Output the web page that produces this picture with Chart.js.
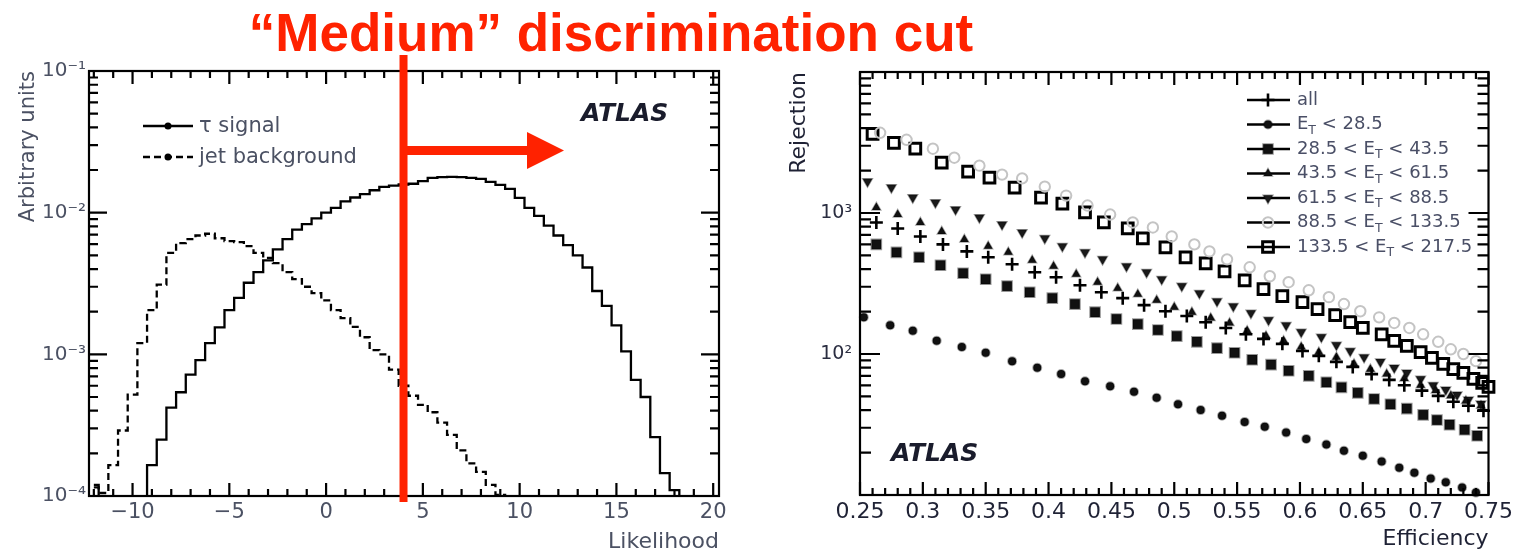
<!DOCTYPE html>
<html>
<head>
<meta charset="utf-8">
<script src="https://cdn.jsdelivr.net/npm/chart.js@4.4.1/dist/chart.umd.min.js"></script>
<style>
  body { margin: 0; background: #fff; width: 1517px; height: 555px; position: relative; overflow: hidden; }
  #title { position: absolute; left: 0; top: 6px; width: 1222px; text-align: center; white-space: nowrap;
           font: bold 53px/53px "Liberation Sans", Arial, sans-serif; color: #ff2200; z-index: 2; }
  canvas { position: absolute; top: 0; }
  #llh { left: 0; }
  #rej { left: 760px; }
</style>
</head>
<body>
<div id="title">“Medium” discrimination cut</div>
<canvas id="llh" width="760" height="555"></canvas>
<canvas id="rej" width="757" height="555"></canvas>
<script>
// ---------- left panel: likelihood distributions (bin centres, width 0.5) ----------
const llhBins = [-12, -11.5, -11, -10.5, -10, -9.5, -9, -8.5, -8, -7.5, -7, -6.5, -6, -5.5, -5, -4.5,
  -4, -3.5, -3, -2.5, -2, -1.5, -1, -0.5, 0, 0.5, 1, 1.5, 2, 2.5, 3, 3.5, 4, 4.5, 5, 5.5, 6, 6.5, 7, 7.5,
  8, 8.5, 9, 9.5, 10, 10.5, 11, 11.5, 12, 12.5, 13, 13.5, 14, 14.5, 15, 15.5, 16, 16.5, 17, 17.5, 18,
  18.5, 19, 19.5, 20];
// 1e-5 = empty bin (below the axis)
const tauSignal = [1.2e-4, 1e-5, 1e-5, 1e-5, 1e-5, 1e-5, 1.65e-4, 2.5e-4, 4.2e-4, 5.4e-4, 7.2e-4, 9.1e-4,
  1.2e-3, 1.55e-3, 2.05e-3, 2.5e-3, 3.2e-3, 3.8e-3, 4.6e-3, 5.5e-3, 6.5e-3, 7.6e-3, 8.3e-3, 9.1e-3,
  1.0e-2, 1.08e-2, 1.2e-2, 1.28e-2, 1.35e-2, 1.44e-2, 1.52e-2, 1.55e-2, 1.58e-2, 1.6e-2, 1.67e-2,
  1.76e-2, 1.78e-2, 1.79e-2, 1.78e-2, 1.76e-2, 1.73e-2, 1.65e-2, 1.57e-2, 1.47e-2, 1.27e-2, 1.08e-2,
  9.5e-3, 8.1e-3, 6.9e-3, 5.9e-3, 5.0e-3, 4.1e-3, 2.8e-3, 2.2e-3, 1.6e-3, 1.05e-3, 6.6e-4, 5.0e-4,
  2.6e-4, 1.45e-4, 1.1e-4, 1e-5, 1e-5, 1e-5, 1e-5];
const jetBackground = [1.15e-4, 1.05e-4, 1.65e-4, 2.9e-4, 5.2e-4, 1.2e-3, 2.05e-3, 3.1e-3, 5.2e-3, 6.1e-3,
  6.5e-3, 6.9e-3, 7.1e-3, 6.6e-3, 6.3e-3, 6.2e-3, 5.8e-3, 5.2e-3, 4.8e-3, 4.4e-3, 3.8e-3, 3.4e-3, 3.0e-3,
  2.7e-3, 2.4e-3, 2.05e-3, 1.8e-3, 1.56e-3, 1.32e-3, 1.07e-3, 1.0e-3, 7.8e-4, 6.0e-4, 5.1e-4, 4.4e-4,
  3.9e-4, 3.3e-4, 2.7e-4, 2.1e-4, 1.7e-4, 1.48e-4, 1.2e-4, 1.02e-4, 1e-5, 1e-5, 1e-5, 1e-5, 1e-5, 1e-5,
  1e-5, 1e-5, 1e-5, 1e-5, 1e-5, 1e-5, 1e-5, 1e-5, 1e-5, 1e-5, 1e-5, 1e-5, 1e-5, 1e-5, 1e-5, 1e-5];
const llhTicks = [-10, -5, 0, 5, 10, 15, 20];
const llhTickLabels = ['−10', '−5', '0', '5', '10', '15', '20'];
const llhYTicks = [1e-4, 1e-3, 1e-2, 1e-1];
const llhYLabels = ['10⁻⁴', '10⁻³', '10⁻²', '10⁻¹'];
const llhLegend = ['τ signal', 'jet background'];
const llhCut = 4;

// ---------- right panel: rejection vs efficiency ----------
const effAll = [0.263, 0.280, 0.298, 0.316, 0.335, 0.352, 0.371, 0.389, 0.406, 0.425, 0.442, 0.459, 0.476, 0.493,
  0.510, 0.525, 0.541, 0.557, 0.571, 0.586, 0.602, 0.615, 0.629, 0.642, 0.657, 0.671, 0.683, 0.697, 0.710, 0.722, 0.734, 0.746];
const rejAll = [857, 777, 682, 599, 534, 485, 433, 380, 350, 307, 274, 249, 222, 201, 186, 168, 153, 138, 128, 118,
  105, 97, 88, 81, 72, 65.5, 60, 55, 50.5, 45.8, 43, 39.6];
const effEt1 = [0.253, 0.274, 0.292, 0.311, 0.331, 0.350, 0.371, 0.391, 0.410, 0.429, 0.449, 0.468, 0.486, 0.503,
  0.521, 0.538, 0.556, 0.572, 0.589, 0.605, 0.621, 0.635, 0.650, 0.665, 0.679, 0.691, 0.704, 0.716, 0.729, 0.740];
const rejEt1 = [182, 160, 146, 124, 112, 102, 89, 80, 72, 64, 59, 54, 49, 44, 40, 36.5, 33, 30.5, 27.7, 25,
  22.8, 20.6, 19, 17.3, 15.6, 14.4, 13.1, 12.3, 11.3, 10.4];
const effEt2 = [0.263, 0.279, 0.297, 0.314, 0.332, 0.350, 0.367, 0.385, 0.403, 0.421, 0.437, 0.454, 0.471, 0.487,
  0.502, 0.518, 0.534, 0.548, 0.562, 0.577, 0.591, 0.607, 0.621, 0.633, 0.646, 0.659, 0.672, 0.685, 0.698, 0.709,
  0.719, 0.731, 0.741];
const rejEt2 = [599, 526, 485, 426, 374, 339, 303, 274, 249, 226, 198, 177, 163, 148, 134, 122, 110, 102, 91, 84,
  76, 70, 63, 58, 53, 48, 44, 41, 37, 34, 31.5, 29, 26.3];
const effEt3 = [0.263, 0.280, 0.298, 0.315, 0.333, 0.352, 0.368, 0.387, 0.404, 0.422, 0.439, 0.455, 0.471, 0.486,
  0.500, 0.514, 0.529, 0.544, 0.558, 0.573, 0.587, 0.601, 0.615, 0.629, 0.643, 0.656, 0.669, 0.683, 0.696, 0.708,
  0.720, 0.732, 0.744];
const rejEt3 = [1094, 975, 857, 740, 650, 580, 526, 462, 419, 368, 323, 293, 265, 241, 215, 198, 180, 166, 146, 134,
  124, 112, 103, 95, 85, 78, 72, 67, 60, 55, 50.5, 46.5, 43];
const effEt4 = [0.256, 0.275, 0.292, 0.310, 0.326, 0.345, 0.363, 0.379, 0.397, 0.411, 0.429, 0.443, 0.462, 0.478,
  0.490, 0.506, 0.520, 0.534, 0.547, 0.561, 0.575, 0.589, 0.601, 0.617, 0.629, 0.640, 0.651, 0.664, 0.675, 0.685,
  0.696, 0.706, 0.716, 0.725, 0.734, 0.744];
const rejEt4 = [1670, 1515, 1288, 1187, 1059, 929, 829, 728, 661, 580, 526, 469, 419, 380, 339, 303, 270, 237, 218, 195,
  174, 160, 143, 132, 116, 105, 95, 88, 80, 73.5, 66.5, 60, 55.7, 51.3, 47.3, 44.4];
const effEt5 = [0.266, 0.287, 0.308, 0.325, 0.345, 0.363, 0.379, 0.397, 0.414, 0.431, 0.449, 0.467, 0.483, 0.498,
  0.516, 0.528, 0.542, 0.560, 0.576, 0.591, 0.607, 0.623, 0.635, 0.648, 0.663, 0.675, 0.687, 0.698, 0.710, 0.720,
  0.730, 0.740];
const rejEt5 = [3706, 3306, 2857, 2468, 2166, 1872, 1760, 1538, 1329, 1130, 975, 857, 790, 682, 599, 534, 469, 412, 356, 323,
  283, 253, 226, 201, 182, 166, 153, 138, 122, 108, 100, 89];
const effEt6 = [0.260, 0.277, 0.294, 0.315, 0.336, 0.353, 0.373, 0.394, 0.411, 0.429, 0.444, 0.463, 0.475, 0.493,
  0.509, 0.525, 0.540, 0.556, 0.571, 0.586, 0.602, 0.614, 0.628, 0.640, 0.650, 0.665, 0.675, 0.685, 0.696, 0.705,
  0.714, 0.722, 0.730, 0.738, 0.745, 0.750];
const rejEt6 = [3647, 3148, 2857, 2276, 1965, 1782, 1515, 1288, 1167, 1009, 857, 777, 661, 570, 485, 440, 386, 333, 288, 257,
  233, 208, 189, 168, 153, 138, 124, 114, 103, 94, 85, 78, 73.5, 66.5, 62.4, 58.5];
const etBins = [null, [null, '28.5'], ['28.5', '43.5'], ['43.5', '61.5'], ['61.5', '88.5'], ['88.5', '133.5'], ['133.5', '217.5']];
const effTicks = [0.25, 0.3, 0.35, 0.4, 0.45, 0.5, 0.55, 0.6, 0.65, 0.7, 0.75];
const effTickLabels = ['0.25', '0.3', '0.35', '0.4', '0.45', '0.5', '0.55', '0.6', '0.65', '0.7', '0.75'];
const rejYTicks = [100, 1000];
const rejYLabels = ['10²', '10³'];

const FONT = '"DejaVu Sans", sans-serif';

// ROOT style frame with inward ticks on all four sides
const frameTicks = {
  id: 'frameTicks',
  afterDatasetsDraw(chart, args, o) {
    const ctx = chart.ctx, a = chart.chartArea, x = chart.scales.x, y = chart.scales.y;
    ctx.save();
    ctx.strokeStyle = '#000';
    ctx.lineWidth = 2.2;
    ctx.beginPath();
    const n = Math.round((o.xLast - o.xFirst) / o.xStep);
    for (let i = 0; i <= n; i++) {
      const v = o.xFirst + i * o.xStep;
      const px = x.getPixelForValue(v);
      const major = Math.abs(v / o.xMajor - Math.round(v / o.xMajor)) < 1e-6;
      const len = major ? o.xMajorLen : o.xMinorLen;
      ctx.moveTo(px, a.bottom); ctx.lineTo(px, a.bottom - len);
      ctx.moveTo(px, a.top); ctx.lineTo(px, a.top + len);
    }
    const e0 = Math.floor(Math.log10(y.min)), e1 = Math.ceil(Math.log10(y.max));
    for (let e = e0; e <= e1; e++) {
      for (let k = 1; k <= 9; k++) {
        const v = k * Math.pow(10, e);
        if (v < y.min * 0.999 || v > y.max * 1.001) continue;
        const py = y.getPixelForValue(v);
        const len = k === 1 ? o.yMajorLen : o.yMinorLen;
        ctx.moveTo(a.left, py); ctx.lineTo(a.left + len, py);
        ctx.moveTo(a.right, py); ctx.lineTo(a.right - len, py);
      }
    }
    ctx.stroke();
    ctx.strokeRect(a.left, a.top, a.right - a.left, a.bottom - a.top);
    ctx.restore();
  }
};

function drawMarker(ctx, st, x, y) {
  ctx.fillStyle = st.backgroundColor;
  ctx.strokeStyle = st.borderColor;
  ctx.lineWidth = st.borderWidth;
  Chart.helpers.drawPoint(ctx, {pointStyle: st.pointStyle, rotation: st.rotation || 0,
    radius: st.pointRadius, borderWidth: st.borderWidth}, x, y);
}

// left panel extras: legend, ATLAS label, the red cut line and arrow
const llhExtras = {
  id: 'llhExtras',
  afterDraw(chart) {
    const ctx = chart.ctx, x = chart.scales.x;
    ctx.save();
    ctx.font = '21px ' + FONT;
    ctx.textBaseline = 'middle';
    llhLegend.forEach((lab, i) => {
      const ly = 126 + i * 31;
      ctx.strokeStyle = '#000';
      ctx.lineWidth = 2.5;
      ctx.setLineDash(i === 0 ? [] : [7, 4]);
      ctx.beginPath(); ctx.moveTo(143, ly); ctx.lineTo(193, ly); ctx.stroke();
      ctx.setLineDash([]);
      ctx.fillStyle = '#000';
      ctx.beginPath(); ctx.arc(168, ly, 3.5, 0, Math.PI * 2); ctx.fill();
      ctx.fillStyle = '#4b5163';
      ctx.fillText(lab, 199, ly + 1);
    });
    ctx.font = 'italic bold 25px ' + FONT;
    ctx.fillStyle = '#1a1c2c';
    ctx.fillText('ATLAS', 581, 114);

    const cx = x.getPixelForValue(llhCut);
    ctx.fillStyle = '#ff2200';
    ctx.fillRect(cx - 4, 55, 8, 447);
    ctx.fillRect(cx, 146, 528 - cx, 9);
    ctx.beginPath(); ctx.moveTo(527, 132); ctx.lineTo(564, 150.5); ctx.lineTo(527, 169); ctx.closePath(); ctx.fill();
    ctx.restore();
  }
};

new Chart(document.getElementById('llh'), {
  type: 'line',
  data: {
    datasets: [
      { label: llhLegend[0], data: llhBins.map((b, i) => ({x: b, y: tauSignal[i]})),
        borderColor: '#000', borderWidth: 2.3, stepped: 'middle', pointRadius: 0, fill: false },
      { label: llhLegend[1], data: llhBins.map((b, i) => ({x: b, y: jetBackground[i]})),
        borderColor: '#000', borderWidth: 2.3, borderDash: [7, 4], stepped: 'middle', pointRadius: 0, fill: false }
    ]
  },
  options: {
    responsive: false, animation: false, events: [],
    layout: { padding: { top: 71, right: 41, left: 0, bottom: 0 } },
    plugins: {
      legend: { display: false }, tooltip: { enabled: false },
      frameTicks: { xFirst: -12, xLast: 20, xStep: 1, xMajor: 5, xMajorLen: 13, xMinorLen: 7, yMajorLen: 18, yMinorLen: 9 }
    },
    scales: {
      x: {
        type: 'linear', min: -12.25, max: 20.3,
        afterBuildTicks: s => { s.ticks = llhTicks.map(v => ({value: v})); },
        afterFit: s => { s.height = 59; },
        grid: { display: false, drawTicks: false }, border: { display: false },
        ticks: { font: { family: FONT, size: 21 }, color: '#4b5163', padding: 4, maxRotation: 0, autoSkip: false,
                 callback: (v, i) => llhTickLabels[i] },
        title: { display: true, text: 'Likelihood', align: 'end', color: '#4b5163',
                 font: { family: FONT, size: 22 }, padding: { top: 0, bottom: 0 } }
      },
      y: {
        type: 'logarithmic', min: 1e-4, max: 1e-1,
        afterBuildTicks: s => { s.ticks = llhYTicks.map(v => ({value: v})); },
        afterFit: s => { s.width = 89; },
        grid: { display: false, drawTicks: false }, border: { display: false },
        ticks: { font: { family: FONT, size: 20 }, color: '#4b5163', padding: 3, autoSkip: false,
                 callback: (v, i) => llhYLabels[i] },
        title: { display: true, text: 'Arbitrary units', align: 'end', color: '#4b5163',
                 font: { family: FONT, size: 21 }, padding: { top: 16, bottom: 0 } }
      }
    }
  },
  plugins: [frameTicks, llhExtras]
});

// ---------- right panel ----------
const rejStyles = [
  { pointStyle: 'cross', pointRadius: 6.5, borderWidth: 2.6, borderColor: '#000', backgroundColor: '#000' },
  { pointStyle: 'circle', pointRadius: 4, borderWidth: 2, borderColor: 'rgba(0,0,0,0.35)', backgroundColor: '#111' },
  { pointStyle: 'rect', pointRadius: 6.8, borderWidth: 2, borderColor: 'rgba(0,0,0,0.4)', backgroundColor: '#111' },
  { pointStyle: 'triangle', pointRadius: 5, borderWidth: 1.5, borderColor: 'rgba(0,0,0,0.35)', backgroundColor: '#111' },
  { pointStyle: 'triangle', rotation: 180, pointRadius: 5.5, borderWidth: 1.5, borderColor: 'rgba(0,0,0,0.4)', backgroundColor: '#1a1a1a' },
  { pointStyle: 'circle', pointRadius: 5.2, borderWidth: 2, borderColor: '#c4c4c4', backgroundColor: 'rgba(255,255,255,0)' },
  { pointStyle: 'rect', pointRadius: 7.6, borderWidth: 3, borderColor: '#000', backgroundColor: 'rgba(255,255,255,0)' }
];
const rejSeries = [[effAll, rejAll], [effEt1, rejEt1], [effEt2, rejEt2], [effEt3, rejEt3],
  [effEt4, rejEt4], [effEt5, rejEt5], [effEt6, rejEt6]];

const rejExtras = {
  id: 'rejExtras',
  afterDraw(chart) {
    const ctx = chart.ctx;
    ctx.save();
    ctx.textBaseline = 'middle';
    etBins.forEach((bin, i) => {
      const ly = 100 + i * 24.5;
      ctx.strokeStyle = '#000';
      ctx.lineWidth = 2.5;
      ctx.beginPath(); ctx.moveTo(487, ly); ctx.lineTo(530, ly); ctx.stroke();
      drawMarker(ctx, rejStyles[i], 508, ly);
      ctx.fillStyle = '#4a4f66';
      let tx = 537;
      const put = (t, size, dy) => {
        ctx.font = size + 'px ' + FONT;
        ctx.fillText(t, tx, ly + dy);
        tx += ctx.measureText(t).width;
      };
      if (bin === null) { put('all', 18, 0); return; }
      if (bin[0] !== null) put(bin[0] + ' < ', 18, 0);
      put('E', 18, 0);
      put('T', 12.5, 6);
      put(' < ' + bin[1], 18, 0);
    });
    ctx.font = 'italic bold 25px ' + FONT;
    ctx.fillStyle = '#1a1c2c';
    ctx.fillText('ATLAS', 131, 454);
    ctx.restore();
  }
};

new Chart(document.getElementById('rej'), {
  type: 'scatter',
  data: {
    datasets: rejSeries.map((s, k) => Object.assign({
      data: s[0].map((e, i) => ({x: e, y: s[1][i]})), showLine: false, clip: false
    }, rejStyles[k]))
  },
  options: {
    responsive: false, animation: false, events: [],
    layout: { padding: { top: 72, right: 27, left: 0, bottom: 0 } },
    plugins: {
      legend: { display: false }, tooltip: { enabled: false },
      frameTicks: { xFirst: 0.25, xLast: 0.75, xStep: 0.01, xMajor: 0.05, xMajorLen: 13, xMinorLen: 7, yMajorLen: 20, yMinorLen: 11 }
    },
    scales: {
      x: {
        type: 'linear', min: 0.25, max: 0.75,
        afterBuildTicks: s => { s.ticks = effTicks.map(v => ({value: v})); },
        afterFit: s => { s.height = 60; },
        grid: { display: false, drawTicks: false }, border: { display: false },
        ticks: { font: { family: FONT, size: 22 }, color: '#1f2235', padding: 4, maxRotation: 0, autoSkip: false,
                 callback: (v, i) => effTickLabels[i] },
        title: { display: true, text: 'Efficiency', align: 'end', color: '#1f2235',
                 font: { family: FONT, size: 22 }, padding: { top: 0, bottom: 3 } }
      },
      y: {
        type: 'logarithmic', min: 10, max: 10000,
        afterBuildTicks: s => { s.ticks = rejYTicks.map(v => ({value: v})); },
        afterFit: s => { s.width = 100; },
        grid: { display: false, drawTicks: false }, border: { display: false },
        ticks: { font: { family: FONT, size: 19 }, color: '#2a2d40', padding: 8, autoSkip: false,
                 callback: (v, i) => rejYLabels[i] },
        title: { display: true, text: 'Rejection', align: 'end', color: '#1f2235',
                 font: { family: FONT, size: 22 }, padding: { top: 26, bottom: 0 } }
      }
    }
  },
  plugins: [frameTicks, rejExtras]
});
</script>
</body>
</html>
